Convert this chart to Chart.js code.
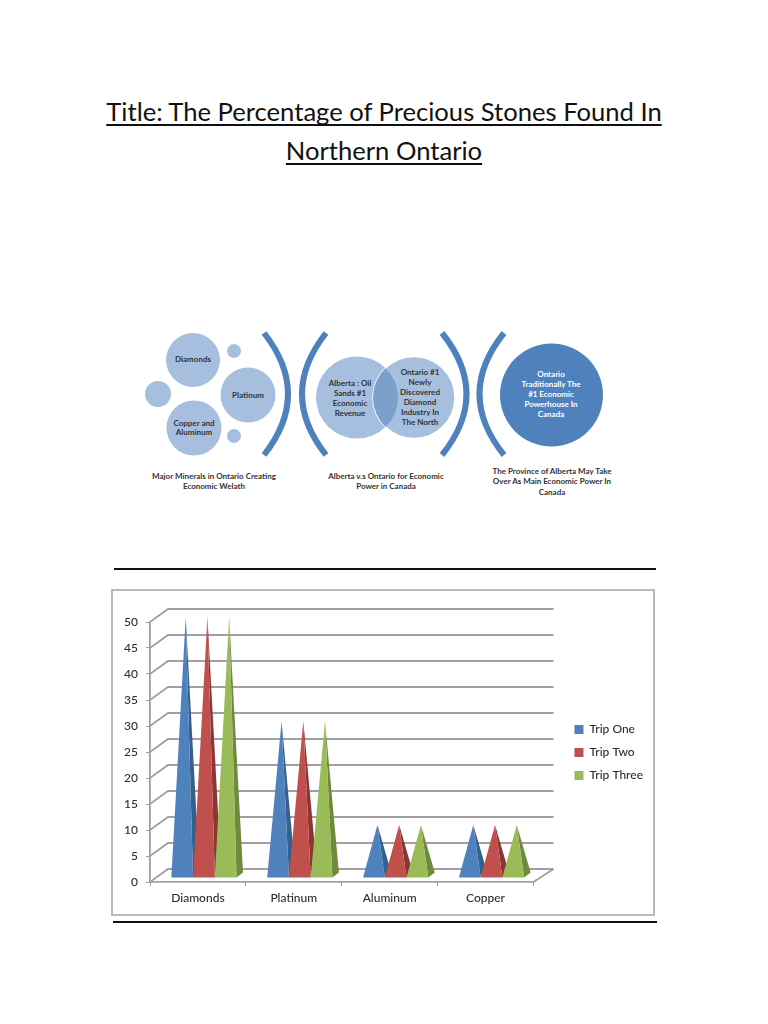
<!DOCTYPE html>
<html>
<head>
<meta charset="utf-8">
<title>Precious Stones in Northern Ontario</title>
<script src="https://cdn.jsdelivr.net/npm/chart.js@4/dist/chart.umd.min.js"></script>
<style>
  html, body { margin: 0; padding: 0; background: #fff; }
  body { position: relative; width: 768px; height: 1024px; overflow: hidden; font-family: Lato, sans-serif; }
  h1 { position: absolute; left: 0; top: 92px; width: 768px; margin: 0; text-align: center; color: #111;
       font-size: 25.6px; font-weight: 400; line-height: 39px; text-decoration: underline; text-decoration-thickness: 1.5px;
       text-underline-offset: 3px; text-decoration-skip-ink: none; }
  .rule { position: absolute; height: 2px; background: #111; }
  #diagram { position: absolute; left: 0; top: 0; }
  #diagram text { font-family: Lato, sans-serif; font-size: 8px; font-weight: 700; text-anchor: middle; fill: #333; }
  #diagram text.light { fill: #fff; }
  #box { position: absolute; left: 111px; top: 589px; width: 540px; height: 323px; border: 2px solid #bababa; }
  #box canvas { position: absolute; left: 0; top: 0; }
</style>
</head>
<body>
<h1>Title: The Percentage of Precious Stones Found In<br>Northern Ontario</h1>

<svg id="diagram" width="768" height="560">
  <g fill="#a7bfde">
    <circle cx="193" cy="360" r="27"/><circle cx="234" cy="351" r="7"/><circle cx="158" cy="394" r="13"/>
    <circle cx="248" cy="395" r="27.5"/><circle cx="194" cy="428" r="27.5"/><circle cx="234" cy="436" r="7"/>
    <circle cx="357" cy="397.5" r="41"/>
  </g>
  <circle cx="414" cy="397.5" r="41" fill="#a7bfde" stroke="#fff" stroke-width="1.5"/>
  <path d="M385.5 368 A41 41 0 0 1 385.5 427 A41 41 0 0 1 385.5 368Z" fill="#7c9fcb"/>
  <circle cx="551.5" cy="395" r="51.5" fill="#4f81bd"/>
  <g fill="none" stroke="#4f81bd" stroke-width="6">
    <path d="M264 333 Q312 394 264 455"/><path d="M326 333 Q278 394 326 455"/>
    <path d="M442 333 Q491 394 442 455"/><path d="M504 333 Q455 394 504 455"/>
  </g>
  <text x="193" y="362">Diamonds</text>
  <text x="248" y="398">Platinum</text>
  <text x="194" y="426">Copper and</text><text x="194" y="435">Aluminum</text>
  <text x="214" y="479">Major Minerals in Ontario Creating</text>
  <text x="214" y="489">Economic Welath</text>
  <text x="350" y="386">Alberta : Oil</text><text x="350" y="396">Sands #1</text>
  <text x="350" y="406">Economic</text><text x="350" y="416">Revenue</text>
  <text x="420" y="375">Ontario #1</text><text x="420" y="385">Newly</text><text x="420" y="395">Discovered</text>
  <text x="420" y="405">Diamond</text><text x="420" y="415">Industry In</text><text x="420" y="425">The North</text>
  <text x="386" y="479">Alberta v.s Ontario for Economic</text>
  <text x="386" y="489">Power in Canada</text>
  <text class="light" x="551" y="377">Ontario</text><text class="light" x="551" y="387">Traditionally The</text>
  <text class="light" x="551" y="397">#1 Economic</text><text class="light" x="551" y="407">Powerhouse In</text>
  <text class="light" x="551" y="417">Canada</text>
  <text x="552" y="474">The Province of Alberta May Take</text>
  <text x="552" y="484">Over As Main Economic Power In</text>
  <text x="552" y="495">Canada</text>
</svg>

<div class="rule" style="left:114px; top:568px; width:542px"></div>
<div id="box"><canvas id="chart" width="540" height="323"></canvas></div>
<div class="rule" style="left:113px; top:921px; width:544px"></div>

<script>
const categories = ['Diamonds', 'Platinum', 'Aluminum', 'Copper'];
const tripOne = [50, 30, 10, 10];
const tripTwo = [50, 30, 10, 10];
const tripThree = [50, 30, 10, 10];
const seriesNames = ['Trip One', 'Trip Two', 'Trip Three'];
const faceColors = ['#4f81bd', '#c0504d', '#9bbb59'];
const sideColors = ['#33608f', '#8c3533', '#6f8a3c'];

const wallColor = '#a0a0a0';
const textColor = '#2e2e2e';
const labelFont = { family: 'Lato', size: 12, weight: '500' };
// how far the back wall sits from the front plane
const depthX = 18;
const depthY = 13;

// grey 3d walls behind the pyramids
const wallsPlugin = {
  id: 'walls',
  beforeDatasetsDraw(chart) {
    const { ctx, chartArea, scales } = chart;
    ctx.save();
    ctx.strokeStyle = wallColor;
    ctx.lineWidth = 1.8;
    scales.y.ticks.forEach((tick) => {
      const y = scales.y.getPixelForValue(tick.value);
      ctx.beginPath();
      ctx.moveTo(chartArea.left, y);
      ctx.lineTo(chartArea.left + depthX, y - depthY);
      ctx.lineTo(chartArea.right + depthX + 2, y - depthY);
      ctx.stroke();
    });
    ctx.beginPath();
    ctx.moveTo(chartArea.right, chartArea.bottom);
    ctx.lineTo(chartArea.right + depthX + 2, chartArea.bottom - depthY);
    ctx.stroke();
    ctx.restore();
  }
};

// the bars themselves are transparent, each one is painted as a pyramid
const pyramidPlugin = {
  id: 'pyramids',
  afterDatasetsDraw(chart) {
    const { ctx } = chart;
    chart.data.datasets.forEach((dataset, i) => {
      chart.getDatasetMeta(i).data.forEach((bar) => {
        const left = bar.x - bar.width / 2 + 6;
        const right = bar.x + bar.width / 2 + 6;
        const baseY = bar.base - 4;
        const tipX = bar.x + 9.5;
        const tipY = bar.y - 5;
        ctx.fillStyle = sideColors[i];
        ctx.beginPath();
        ctx.moveTo(tipX, tipY);
        ctx.lineTo(right, baseY);
        ctx.lineTo(right + 6.5, baseY - 5);
        ctx.closePath();
        ctx.fill();
        ctx.fillStyle = faceColors[i];
        ctx.beginPath();
        ctx.moveTo(tipX, tipY);
        ctx.lineTo(left, baseY);
        ctx.lineTo(right, baseY);
        ctx.closePath();
        ctx.fill();
      });
    });
  }
};

new Chart(document.getElementById('chart'), {
  type: 'bar',
  data: {
    labels: categories,
    datasets: [
      { label: seriesNames[0], data: tripOne, backgroundColor: 'transparent' },
      { label: seriesNames[1], data: tripTwo, backgroundColor: 'transparent' },
      { label: seriesNames[2], data: tripThree, backgroundColor: 'transparent' }
    ]
  },
  options: {
    responsive: false,
    animation: false,
    categoryPercentage: 0.68,
    barPercentage: 1,
    layout: { padding: 0 },
    scales: {
      x: {
        grid: { offset: true, drawOnChartArea: false, color: wallColor, tickLength: 4 },
        border: { color: wallColor, width: 1.8 },
        ticks: { color: textColor, font: labelFont, padding: 5, maxRotation: 0 },
        afterFit: (scale) => { scale.height = 32; }
      },
      y: {
        min: 0,
        max: 50,
        grid: { drawOnChartArea: false, color: wallColor, tickLength: 4 },
        border: { color: wallColor, width: 1.8 },
        ticks: { stepSize: 5, color: textColor, font: labelFont, padding: 8 },
        afterFit: (scale) => { scale.width = 37; }
      },
      // empty scales, they only keep the space above the plot and before the legend
      gapTop: {
        type: 'linear',
        axis: 'x',
        position: 'top',
        display: true,
        grid: { display: false },
        border: { display: false },
        ticks: { display: false },
        afterFit: (scale) => { scale.height = 31; }
      },
      gap: {
        position: 'right',
        display: true,
        grid: { display: false },
        border: { display: false },
        ticks: { display: false },
        afterFit: (scale) => { scale.width = 30; }
      }
    },
    plugins: {
      tooltip: { enabled: false },
      legend: {
        position: 'right',
        labels: {
          boxWidth: 9,
          boxHeight: 9,
          padding: 11,
          color: textColor,
          font: labelFont,
          generateLabels: () => seriesNames.map((name, i) => ({
            text: name,
            fillStyle: faceColors[i],
            strokeStyle: faceColors[i],
            lineWidth: 0,
            fontColor: textColor,
            datasetIndex: i
          }))
        }
      }
    }
  },
  plugins: [wallsPlugin, pyramidPlugin]
});
</script>
</body>
</html>
